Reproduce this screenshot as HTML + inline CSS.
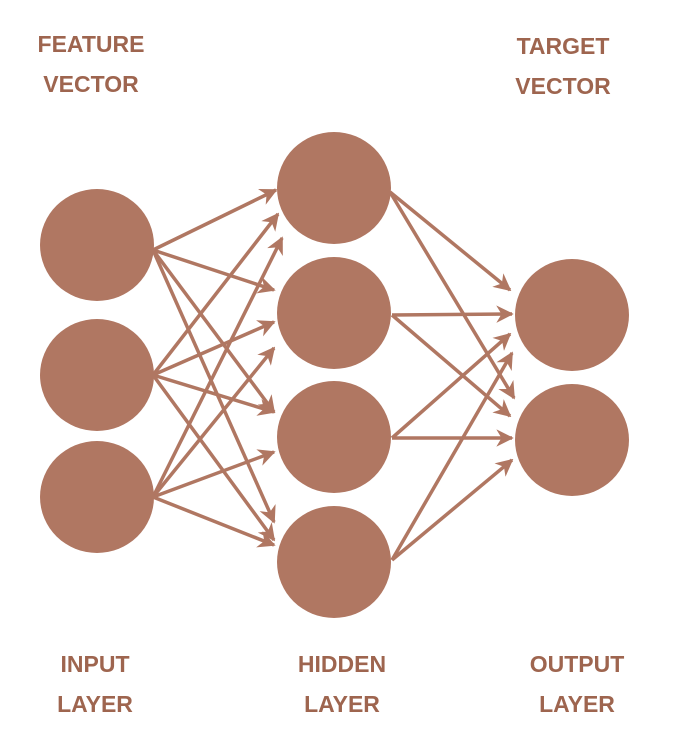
<!DOCTYPE html>
<html><head><style>
body{margin:0;background:#fff;width:674px;height:748px;overflow:hidden}
svg{display:block}
text{font-family:"Liberation Sans",sans-serif;font-weight:bold;font-size:23px;fill:#9e654f;text-anchor:middle}
</style></head><body>
<svg width="674" height="748" viewBox="0 0 674 748">
<defs>
<marker id="a" viewBox="0 0 10 10" refX="9" refY="5" markerWidth="5" markerHeight="5" orient="auto" markerUnits="strokeWidth">
<path d="M0,0 L10,5 L0,10 L3,5 z" fill="#b07762"/></marker>
</defs>
<g stroke="#b07762" stroke-width="3.5" fill="none" marker-end="url(#a)">
<line x1="153" y1="250" x2="276" y2="190"/>
<line x1="153" y1="250" x2="274" y2="290"/>
<line x1="153" y1="250" x2="274" y2="412"/>
<line x1="153" y1="250" x2="274" y2="522"/>
<line x1="153" y1="375" x2="278" y2="214"/>
<line x1="153" y1="375" x2="274" y2="322"/>
<line x1="153" y1="375" x2="274" y2="412"/>
<line x1="153" y1="375" x2="274" y2="540"/>
<line x1="153" y1="497" x2="282" y2="238"/>
<line x1="153" y1="497" x2="274" y2="348"/>
<line x1="153" y1="497" x2="274" y2="452"/>
<line x1="153" y1="497" x2="274" y2="545"/>
<line x1="390" y1="192" x2="510" y2="290"/>
<line x1="390" y1="192" x2="514" y2="398"/>
<line x1="392" y1="315" x2="512" y2="314"/>
<line x1="392" y1="315" x2="510" y2="416"/>
<line x1="392" y1="438" x2="510" y2="334"/>
<line x1="392" y1="438" x2="512" y2="438"/>
<line x1="392" y1="560" x2="512" y2="353"/>
<line x1="392" y1="560" x2="512" y2="460"/>
</g>
<g fill="#b07762">
<ellipse cx="97" cy="245" rx="57" ry="56"/>
<ellipse cx="97" cy="375" rx="57" ry="56"/>
<ellipse cx="97" cy="497" rx="57" ry="56"/>
<ellipse cx="334" cy="188" rx="57" ry="56"/>
<ellipse cx="334" cy="313" rx="57" ry="56"/>
<ellipse cx="334" cy="437" rx="57" ry="56"/>
<ellipse cx="334" cy="562" rx="57" ry="56"/>
<ellipse cx="572" cy="315" rx="57" ry="56"/>
<ellipse cx="572" cy="440" rx="57" ry="56"/>
</g>
<text x="91" y="52">FEATURE</text>
<text x="91" y="92">VECTOR</text>
<text x="563" y="54">TARGET</text>
<text x="563" y="94">VECTOR</text>
<text x="95" y="672">INPUT</text>
<text x="95" y="712">LAYER</text>
<text x="342" y="672">HIDDEN</text>
<text x="342" y="712">LAYER</text>
<text x="577" y="672">OUTPUT</text>
<text x="577" y="712">LAYER</text>
</svg>
</body></html>
